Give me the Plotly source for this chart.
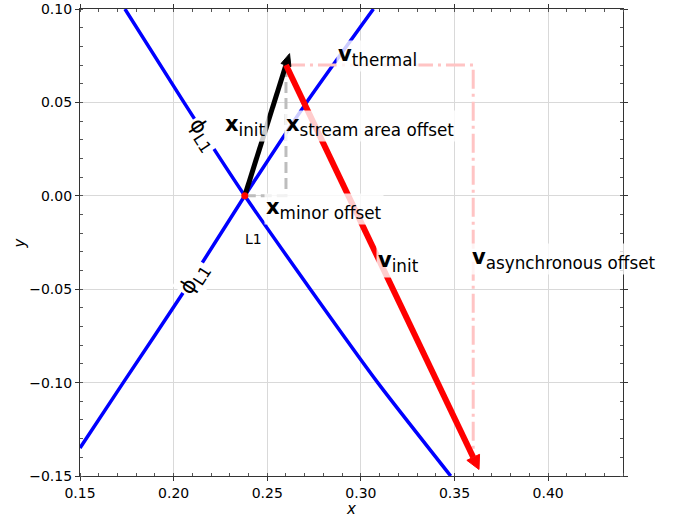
import numpy as np
import plotly.graph_objects as go

# Libration point and the two branches of the separatrix through it
L1_X, L1_Y = 0.238, 0.0
branch_a_x = [0.174, 0.2055, 0.238, 0.273, 0.309, 0.348]
branch_a_y = [0.10, 0.05, 0.0, -0.05, -0.10, -0.15]
branch_b_x = [0.150, 0.1731, 0.2063, 0.238, 0.271, 0.3067]
branch_b_y = [-0.135, -0.10, -0.05, 0.0, 0.05, 0.10]

# Offsets and velocity components
x_minor_offset = 0.022
x_stream_area_offset = 0.07
v_thermal = 0.10
v_asynchronous_offset = -0.21

x_ticks = [0.15, 0.20, 0.25, 0.30, 0.35, 0.40]
y_ticks = [-0.15, -0.10, -0.05, 0.00, 0.05, 0.10]

FONT = "DejaVu Sans"

fig = go.Figure()


def arrow(x0, y0, dx, dy, color, width, head_len, head_w):
    """Shaft from (x0,y0) to (x0+dx,y0+dy) plus a triangular head beyond it."""
    x1, y1 = x0 + dx, y0 + dy
    n = np.hypot(dx, dy)
    ux, uy = dx / n, dy / n
    px, py = -uy, ux
    fig.add_trace(go.Scatter(x=[x0, x1], y=[y0, y1], mode="lines",
                             line=dict(color=color, width=width),
                             hoverinfo="skip", showlegend=False))
    tip = (x1 + ux * head_len, y1 + uy * head_len)
    hx = [x1 + px * head_w / 2, tip[0], x1 - px * head_w / 2, x1 + px * head_w / 2]
    hy = [y1 + py * head_w / 2, tip[1], y1 - py * head_w / 2, y1 + py * head_w / 2]
    fig.add_trace(go.Scatter(x=hx, y=hy, mode="lines", fill="toself",
                             fillcolor=color, line=dict(color=color, width=1),
                             hoverinfo="skip", showlegend=False))


# separatrix branches
for bx, by in [(branch_a_x, branch_a_y), (branch_b_x, branch_b_y)]:
    fig.add_trace(go.Scatter(x=bx, y=by, mode="lines",
                             line=dict(color="#0000ff", width=3.5, shape="spline", smoothing=0.6),
                             hoverinfo="skip", showlegend=False))

# position decomposition (grey dashed)
sx = L1_X + x_minor_offset
sy = L1_Y + x_stream_area_offset
fig.add_trace(go.Scatter(x=[L1_X, sx, sx], y=[L1_Y, L1_Y, sy], mode="lines",
                         line=dict(color="#bdbdbd", width=3, dash="11px,5px"),
                         hoverinfo="skip", showlegend=False))

# velocity decomposition (pink dash-dot)
fig.add_trace(go.Scatter(x=[sx, sx + v_thermal, sx + v_thermal],
                         y=[sy, sy, sy + v_asynchronous_offset], mode="lines",
                         line=dict(color="#ffc4c4", width=3, dash="19px,5px,3px,5px"),
                         hoverinfo="skip", showlegend=False))

# x_init and v_init arrows
arrow(L1_X, L1_Y, x_minor_offset, x_stream_area_offset, "black", 5, 0.0064, 0.0055)
arrow(sx, sy, v_thermal, v_asynchronous_offset, "#ff0000", 6, 0.0072, 0.0075)

# L1 marker
fig.add_trace(go.Scatter(x=[L1_X], y=[L1_Y], mode="markers",
                         marker=dict(color="#ff0000", size=7, line=dict(width=0)),
                         hoverinfo="skip", showlegend=False))


def vec_label(sym, sub):
    return ('<span style="font-size:21px"><b>%s</b></span><sub>%s</sub>' % (sym, sub))


BG = "rgba(255,255,255,0.8)"
labels = [
    (vec_label("v", "thermal"), 0.2868, 0.0750),
    (vec_label("x", "init"), 0.2262, 0.0375),
    (vec_label("x", "stream area offset"), 0.2592, 0.0375),
    (vec_label("x", "minor offset"), 0.2483, -0.0070),
    (vec_label("v", "init"), 0.3080, -0.0355),
    (vec_label("v", "asynchronous offset"), 0.3582, -0.0340),
]
for text, x, y in labels:
    fig.add_annotation(x=x, y=y, xref="x", yref="y", text=text, showarrow=False,
                       xanchor="left", yanchor="middle", bgcolor=BG, borderpad=1,
                       font=dict(family=FONT, size=24, color="black"))

for x, y, ang in [(0.2152, 0.0327, 57), (0.2114, -0.0444, -57)]:
    fig.add_annotation(x=x, y=y, xref="x", yref="y",
                       text='<span style="font-size:21px">ϕ</span><sub>L1</sub>',
                       showarrow=False, textangle=ang, bgcolor="white", borderpad=1,
                       font=dict(family=FONT, size=23, color="black"))

fig.add_annotation(x=0.2424, y=-0.0230, xref="x", yref="y", text="L1", showarrow=False,
                   font=dict(family=FONT, size=14, color="black"))

# y axis title placed beside the tick labels
fig.add_annotation(x=-0.1105, y=0.5, xref="paper", yref="paper", text="<i>y</i>",
                   showarrow=False, textangle=-90, xanchor="center", yanchor="middle",
                   font=dict(family=FONT, size=15, color="black"))

axis_common = dict(
    showgrid=True, gridcolor="#d9d9d9", gridwidth=1,
    showline=True, linecolor="#333333", linewidth=1.2, mirror="ticks",
    ticks="outside", ticklen=4, tickcolor="#333333", tickwidth=1.2,
    tickformat=".2f", zeroline=False, automargin=False,
    tickfont=dict(family=FONT, size=14, color="black"),
    minor=dict(ticks="inside", ticklen=3, tickcolor="#555555", dtick=0.01, showgrid=False),
)

fig.update_xaxes(range=[0.15, 0.44], tickvals=x_ticks, **axis_common,
                 title=dict(text="<i>x</i>", standoff=6,
                            font=dict(family=FONT, size=15, color="black")))
fig.update_yaxes(range=[-0.15, 0.10], tickvals=y_ticks, **axis_common)

fig.update_layout(width=686, height=518, margin=dict(l=80, r=63, t=9, b=42),
                  plot_bgcolor="white", paper_bgcolor="white",
                  font=dict(family=FONT))

fig.write_html("out.html")
